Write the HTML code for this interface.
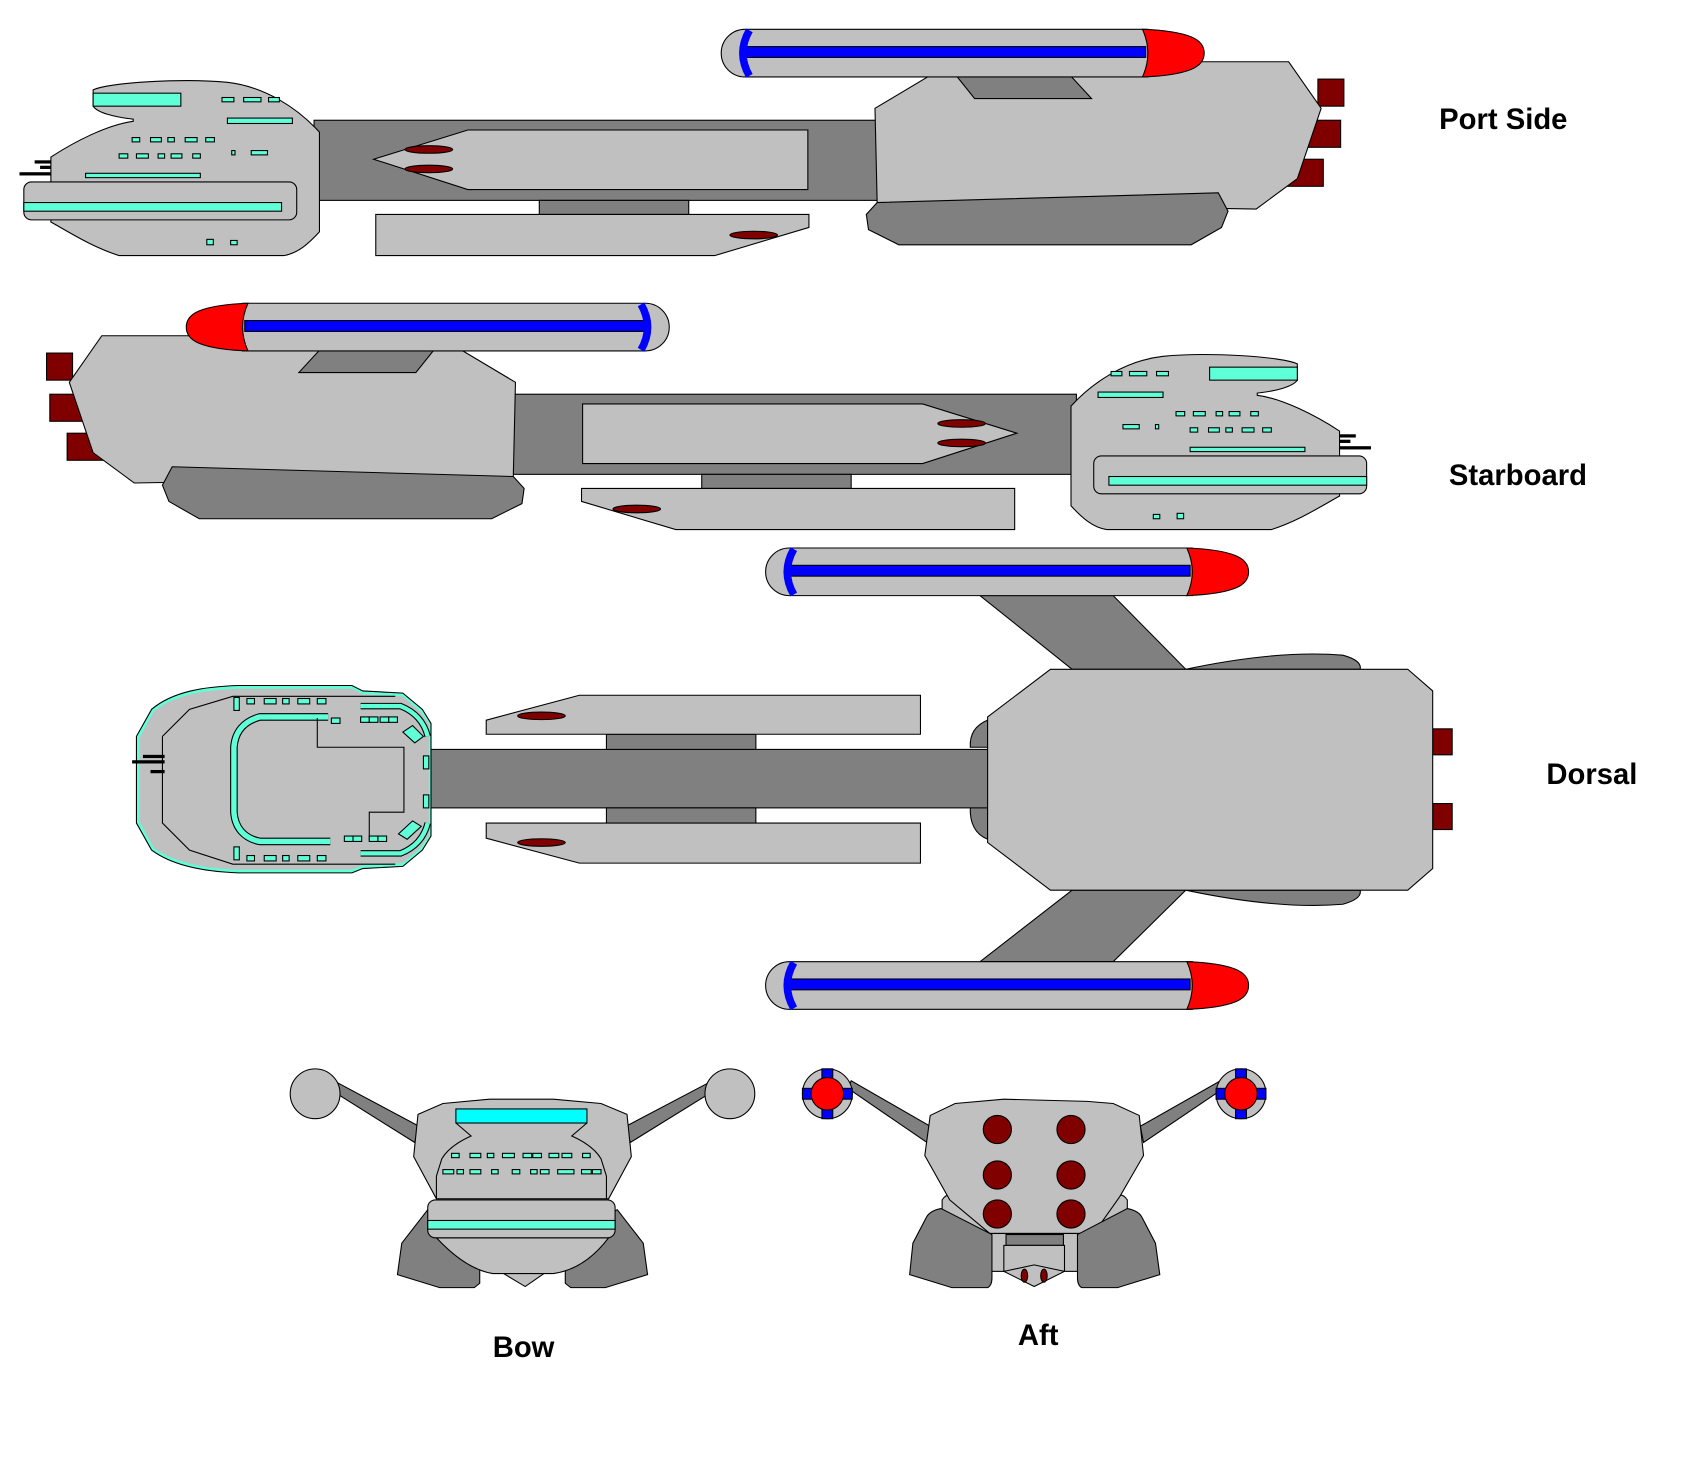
<!DOCTYPE html>
<html><head><meta charset="utf-8"><style>
html,body{margin:0;padding:0;background:#fff;}
svg{display:block;}
text{font-family:"Liberation Sans",sans-serif;font-weight:bold;font-size:27px;fill:#000;}
</style></head><body>
<svg width="1698" height="1462" viewBox="0 0 1568 1350" xmlns="http://www.w3.org/2000/svg">
<defs>
<g id="nac" stroke="#000" stroke-width="1">
  <path d="M28,0 L400,0 L400,44 L28,44 A22,22 0 0 1 28,0 Z" fill="#c0c0c0"/>
  <rect x="26" y="16" width="372" height="10" fill="#0000ff"/>
  <path d="M32,1 Q20,22 32,43" fill="none" stroke="#0000ff" stroke-width="7"/>
  <path d="M395,0 Q425,1 440,7 Q452,12 452,22 Q452,32 440,37 Q425,43 395,44 Q405,22 395,0 Z" fill="#ff0000"/>
</g>
<g id="side" stroke="#000" stroke-width="1">
  <rect x="290" y="111" width="522" height="74" fill="#808080"/>
  <rect x="498" y="185" width="138" height="13" fill="#808080"/>
  <polygon points="345,147 432,120 746,120 746,175 432,175" fill="#c0c0c0"/>
  <ellipse cx="396" cy="138" rx="22" ry="3.5" fill="#800000"/>
  <ellipse cx="396" cy="156" rx="22" ry="3.5" fill="#800000"/>
  <polygon points="347,198 747,198 747,210 660,236 347,236" fill="#c0c0c0"/>
  <ellipse cx="696" cy="217" rx="22" ry="3.5" fill="#800000"/>
  <rect x="1217" y="73" width="24" height="25" fill="#800000"/>
  <rect x="1205" y="111" width="33" height="25" fill="#800000"/>
  <rect x="1182" y="147" width="40" height="25" fill="#800000"/>
  <polygon points="808,100 880,57 1190,57 1220,100 1198,165 1160,193 810,187" fill="#c0c0c0"/>
  <polygon points="880,66 985,66 1008,91 900,91" fill="#808080"/>
  <path d="M810,187 L1125,178 L1134,195 L1128,210 L1100,226 L830,226 L802,212 L800,198 Z" fill="#808080"/>
  <path d="M86,83 C100,76 170,72 210,76 C245,80 275,100 295,122 L295,214 C285,225 275,234 262,236 L110,236 C85,228 65,215 47,205 L47,145 C70,130 100,115 123,112 L123,110 C105,108 90,104 86,98 Z" fill="#c0c0c0"/>
  <rect x="22" y="168" width="252" height="35" rx="7" fill="#c0c0c0"/>
  <rect x="22" y="187" width="238" height="8" fill="#5fffd7"/>
  <g fill="#5fffd7">
  <rect x="86" y="86" width="81" height="12"/>
  <rect x="210" y="109" width="60" height="5"/>
  <rect x="79" y="160" width="106" height="4"/>
  <rect x="205" y="90" width="11" height="4"/><rect x="225" y="90" width="16" height="4"/><rect x="248" y="90" width="10" height="4"/>
  <rect x="122" y="127" width="7" height="4"/><rect x="139" y="127" width="10" height="4"/><rect x="155" y="127" width="6" height="4"/><rect x="171" y="127" width="11" height="4"/><rect x="190" y="127" width="8" height="4"/>
  <rect x="110" y="142" width="8" height="4"/><rect x="126" y="142" width="11" height="4"/><rect x="146" y="142" width="6" height="4"/><rect x="158" y="142" width="10" height="4"/><rect x="178" y="142" width="7" height="4"/>
  <rect x="214" y="139" width="3" height="4"/><rect x="232" y="139" width="15" height="4"/>
  <rect x="191" y="221" width="6" height="5"/><rect x="213" y="222" width="6" height="4"/>
  </g>
  <g fill="#000" stroke="none">
  <rect x="32" y="148" width="15" height="3"/><rect x="37" y="153" width="10" height="3"/><rect x="18" y="159" width="29" height="3"/>
  </g>
  <use href="#nac" x="660" y="27"/>
</g>
</defs>

<use href="#side"/>
<g transform="translate(1284,253) scale(-1,1)">
  <use href="#side"/>
</g>

<!-- DORSAL -->
<g stroke="#000" stroke-width="1">
  <polygon points="905,550 1028,550 1095,618 990,618" fill="#808080"/>
  <polygon points="990,822 1095,822 1028,888 905,888" fill="#808080"/>
  <path d="M1095,618 Q1180,600 1240,605 Q1258,610 1256,618 Z" fill="#808080"/>
  <path d="M1095,822 Q1180,840 1240,835 Q1258,830 1256,822 Z" fill="#808080"/>
  <path d="M912,665 Q895,672 896,690 L912,690 Z" fill="#808080"/>
  <path d="M912,745 L896,745 Q895,768 912,775 Z" fill="#808080"/>
  <rect x="1323" y="673" width="18" height="24" fill="#800000"/>
  <rect x="1323" y="742" width="18" height="24" fill="#800000"/>
  <rect x="396" y="692" width="518" height="54" fill="#808080"/>
  <rect x="560" y="678" width="138" height="14" fill="#808080"/>
  <rect x="560" y="746" width="138" height="14" fill="#808080"/>
  <polygon points="449,665 535,642 850,642 850,678 449,678" fill="#c0c0c0"/>
  <ellipse cx="500" cy="661" rx="22" ry="3.5" fill="#800000"/>
  <polygon points="449,760 850,760 850,797 535,797 449,774" fill="#c0c0c0"/>
  <ellipse cx="500" cy="778" rx="22" ry="3.5" fill="#800000"/>
  <polygon points="912,662 970,618 1300,618 1323,638 1323,802 1300,822 970,822 912,778" fill="#c0c0c0"/>
  <path d="M126,680 L140,655 C160,638 190,634 220,633 L325,633 L335,638 L372,640 L390,655 L398,668 L398,772 L390,785 L372,800 L335,802 L325,806 L220,806 C190,805 160,800 140,785 L126,760 Z" fill="#5fffd7"/>
  <path d="M129,681 L142,657 C162,641 190,637 220,636 L325,636 L335,641 L372,643 L388,657 L396,668 L396,772 L388,783 L372,797 L335,799 L325,803 L220,803 C190,802 162,797 142,783 L129,759 Z" fill="#c0c0c0" stroke="none"/>
  <path d="M150,680 L150,760 L175,785 L215,798 L365,798 M150,680 L175,655 L215,643 L365,643" fill="none"/>
  <path d="M303,662 L240,662 C225,666 217,676 216,690 L216,750 C217,764 225,774 240,777 L305,777" fill="none" stroke="#000" stroke-width="7"/>
  <path d="M303,662 L240,662 C225,666 217,676 216,690 L216,750 C217,764 225,774 240,777 L305,777" fill="none" stroke="#5fffd7" stroke-width="5"/>
  <polyline points="293,663 293,690 373,690 373,750 341,750 341,776" fill="none"/>
  <path d="M333,652 L370,652 Q390,660 395,680" fill="none" stroke="#000" stroke-width="6"/>
  <path d="M333,652 L370,652 Q390,660 395,680" fill="none" stroke="#5fffd7" stroke-width="4"/>
  <path d="M333,788 L370,788 Q390,780 395,760" fill="none" stroke="#000" stroke-width="6"/>
  <path d="M333,788 L370,788 Q390,780 395,760" fill="none" stroke="#5fffd7" stroke-width="4"/>
  <g fill="#5fffd7">
  <rect x="228" y="645" width="7" height="5"/><rect x="244" y="645" width="11" height="5"/><rect x="261" y="645" width="6" height="5"/><rect x="275" y="645" width="11" height="5"/><rect x="293" y="645" width="8" height="5"/>
  <rect x="228" y="790" width="7" height="5"/><rect x="244" y="790" width="11" height="5"/><rect x="261" y="790" width="6" height="5"/><rect x="275" y="790" width="11" height="5"/><rect x="293" y="790" width="8" height="5"/>
  <rect x="216" y="644" width="5" height="12"/><rect x="216" y="782" width="5" height="12"/>
  <rect x="306" y="663" width="8" height="5"/><rect x="333" y="662" width="8" height="5"/><rect x="341" y="662" width="8" height="5"/><rect x="351" y="662" width="8" height="5"/><rect x="359" y="662" width="8" height="5"/>
  <rect x="318" y="772" width="8" height="5"/><rect x="326" y="772" width="8" height="5"/><rect x="341" y="772" width="8" height="5"/><rect x="349" y="772" width="8" height="5"/>
  <polygon points="372,676 381,670 391,680 383,686"/><polygon points="368,770 381,758 389,763 376,775"/>
  <rect x="391" y="698" width="5" height="12"/><rect x="391" y="734" width="5" height="12"/>
  </g>
  <g fill="#000" stroke="none"><rect x="132" y="697" width="20" height="3"/><rect x="122" y="702" width="30" height="3"/><rect x="139" y="711" width="13" height="3"/></g>
</g>
<use href="#nac" x="701" y="506"/>
<use href="#nac" x="701" y="888"/>

<!-- BOW -->
<g stroke="#000" stroke-width="1">
  <polygon points="308,1008 312,1000 387,1040 383,1055" fill="#808080"/>
  <polygon points="654,1000 658,1008 582,1055 578,1040" fill="#808080"/>
  <circle cx="291" cy="1010" r="23" fill="#c0c0c0"/>
  <circle cx="674" cy="1010" r="23" fill="#c0c0c0"/>
  <path d="M395,1117 L371,1148 L367,1177 L406,1189 L438,1189 L443,1185 L443,1143 Z" fill="#808080"/>
  <path d="M570,1117 L594,1148 L598,1177 L559,1189 L527,1189 L522,1185 L522,1143 Z" fill="#808080"/>
  <polygon points="455,1170 485,1188 511,1170" fill="#c0c0c0"/>
  <path d="M403,1143 Q430,1172 455,1176 L511,1176 Q540,1172 562,1143 Z" fill="#c0c0c0"/>
  <polygon points="386,1029 409,1019 452,1015 511,1015 555,1019 579,1029 583,1068 562,1107 403,1107 382,1068" fill="#c0c0c0"/>
  <path d="M421,1037 L435,1049 Q415,1058 408,1070 L403,1086 L403,1107 M542,1037 L528,1049 Q548,1058 555,1070 L560,1086 L560,1107" fill="none"/>
  <rect x="421" y="1024" width="121" height="13" fill="#00ffff"/>
  <rect x="395" y="1108" width="173" height="35" rx="7" fill="#c0c0c0"/>
  <rect x="395" y="1127" width="173" height="8" fill="#5fffd7"/>
  <g fill="#5fffd7">
  <rect x="417" y="1065" width="7" height="4"/><rect x="434" y="1065" width="10" height="4"/><rect x="450" y="1065" width="6" height="4"/><rect x="464" y="1065" width="11" height="4"/><rect x="483" y="1065" width="8" height="4"/><rect x="492" y="1065" width="8" height="4"/><rect x="507" y="1065" width="9" height="4"/><rect x="519" y="1065" width="9" height="4"/><rect x="538" y="1065" width="7" height="4"/>
  <rect x="409" y="1080" width="10" height="4"/><rect x="422" y="1080" width="6" height="4"/><rect x="434" y="1080" width="10" height="4"/><rect x="454" y="1080" width="6" height="4"/><rect x="473" y="1080" width="7" height="4"/><rect x="490" y="1080" width="6" height="4"/><rect x="499" y="1080" width="8" height="4"/><rect x="515" y="1080" width="15" height="4"/><rect x="537" y="1080" width="9" height="4"/><rect x="547" y="1080" width="8" height="4"/>
  </g>
</g>

<!-- AFT -->
<g stroke="#000" stroke-width="1">
  <polygon points="783,1005 786,998 859,1040 856,1055" fill="#808080"/>
  <polygon points="1127,998 1130,1005 1056,1055 1053,1040" fill="#808080"/>
  <path d="M870,1108 Q875,1100 885,1105 L1025,1105 Q1036,1100 1041,1108 L1041,1140 L870,1140 Z" fill="#c0c0c0"/>
  <polygon points="854,1067 859,1030 882,1019 927,1015 1004,1017 1028,1019 1052,1030 1056,1067 1034,1105 1010,1139 914,1139 877,1108" fill="#c0c0c0"/>
  <g fill="#800000">
  <circle cx="921" cy="1043" r="13"/><circle cx="989" cy="1043" r="13"/>
  <circle cx="921" cy="1085" r="13"/><circle cx="989" cy="1085" r="13"/>
  <circle cx="921" cy="1121" r="13"/><circle cx="989" cy="1121" r="13"/>
  </g>
  <rect x="914" y="1139" width="83" height="35" fill="#c0c0c0"/>
  <rect x="929" y="1140" width="53" height="10" fill="#808080"/>
  <rect x="927" y="1150" width="56" height="24" fill="#c0c0c0"/>
  <polygon points="927,1174 955,1168 983,1174 955,1188" fill="#c0c0c0"/>
  <ellipse cx="946" cy="1178" rx="3" ry="6" fill="#800000"/>
  <ellipse cx="964" cy="1178" rx="3" ry="6" fill="#800000"/>
  <path d="M869,1116 Q858,1118 855,1125 L843,1148 L840,1177 L879,1189 L912,1189 Q916,1187 916,1180 L916,1140 Z" fill="#808080"/>
  <path d="M1041,1116 Q1052,1118 1055,1125 L1067,1148 L1071,1177 L1032,1189 L999,1189 Q995,1187 995,1180 L995,1140 Z" fill="#808080"/>
  <circle cx="764" cy="1010" r="23" fill="#c0c0c0"/>
  <rect x="759" y="987" width="10" height="46" fill="#0000ff"/>
  <rect x="741" y="1005" width="46" height="10" fill="#0000ff"/>
  <circle cx="764" cy="1010" r="15" fill="#ff0000"/>
  <circle cx="1146" cy="1010" r="23" fill="#c0c0c0"/>
  <rect x="1141" y="987" width="10" height="46" fill="#0000ff"/>
  <rect x="1123" y="1005" width="46" height="10" fill="#0000ff"/>
  <circle cx="1146" cy="1010" r="15" fill="#ff0000"/>
</g>

<text x="1329" y="119">Port Side</text>
<text x="1338" y="448">Starboard</text>
<text x="1428" y="724">Dorsal</text>
<text x="455" y="1253">Bow</text>
<text x="940" y="1242">Aft</text>
</svg>
</body></html>
